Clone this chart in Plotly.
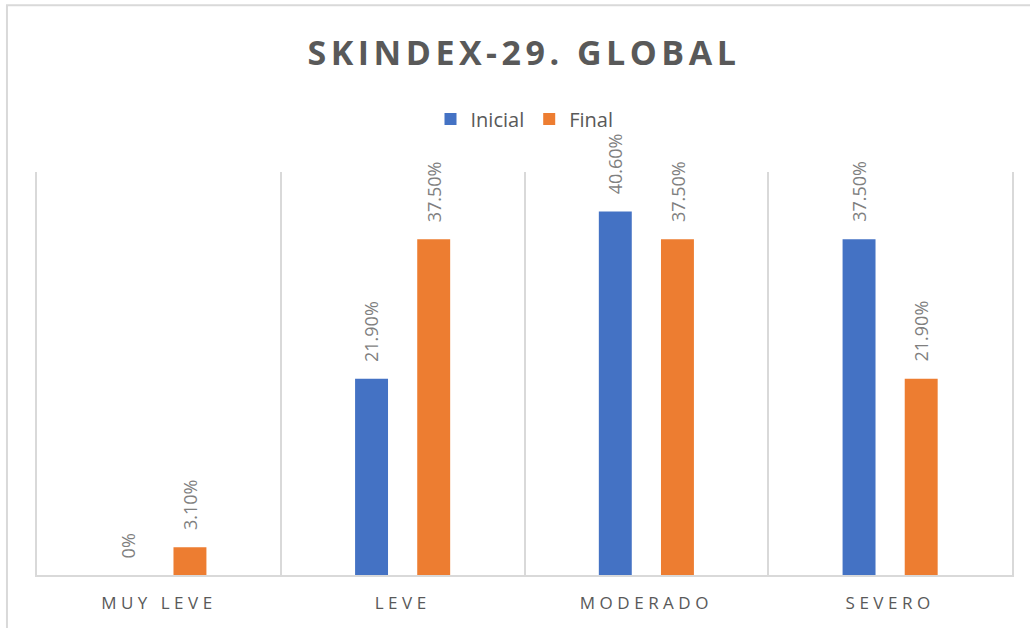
import plotly.graph_objects as go

categories = ["MUY LEVE", "LEVE", "MODERADO", "SEVERO"]
inicial = [0.0, 21.9, 40.6, 37.5]
final = [3.1, 37.5, 37.5, 21.9]
series_names = ["Inicial", "Final"]
colors = ["#4472C4", "#ED7D31"]


def fmt(v):
    return "0%" if v == 0 else f"{v:.2f}%"


fig = go.Figure()
for name, vals, col in zip(series_names, [inicial, final], colors):
    fig.add_trace(go.Bar(x=categories, y=vals, name=name, marker_color=col,
                         marker_line_width=0))

annotations = []
for vals, shift in zip([inicial, final], [-31, 31]):
    for c, v in zip(categories, vals):
        annotations.append(dict(x=c, y=v, xref="x", yref="y", text=fmt(v),
                                showarrow=False, textangle=-90, xshift=shift,
                                yanchor="bottom", yshift=15,
                                font=dict(family="Open Sans", size=18, color="#7F7F7F")))

fig.update_layout(
    width=1030, height=628,
    paper_bgcolor="white", plot_bgcolor="white",
    margin=dict(l=37, r=18, t=172, b=53),
    barmode="group", bargap=0.49, bargroupgap=0.47,
    title=dict(text="<b>SKINDEX-29. GLOBAL</b>", x=0.5087, xanchor="center",
               y=0.915, yanchor="middle",
               font=dict(family="Open Sans", size=34, color="#595959")),
    legend=dict(orientation="h", x=0.5, xanchor="center", y=1.1315, yanchor="middle",
                font=dict(family="Open Sans", size=20, color="#595959"),
                itemwidth=30, traceorder="normal"),
    annotations=annotations,
    shapes=[dict(type="rect", xref="paper", yref="paper", x0=-0.0308, x1=1.2,
                 y0=-0.5, y1=1.414, line=dict(color="#D9D9D9", width=2),
                 fillcolor="rgba(0,0,0,0)", layer="below")],
    font=dict(family="Open Sans"),
)
fig.update_xaxes(showgrid=True, gridcolor="#D9D9D9", gridwidth=1.5, tickson="boundaries",
                 showline=True, linecolor="#D9D9D9", linewidth=1.5, ticks="",
                 tickfont=dict(family="Open Sans", size=17, color="#595959"),
                 ticklabelstandoff=12)
fig.update_yaxes(range=[0, 45], showgrid=False, showticklabels=False, zeroline=False,
                 showline=True, mirror=True, linecolor="#D9D9D9", linewidth=1.5)

post = """
document.body.style.margin='0';
var gd=document.getElementById('{plot_id}');
function sp(){
  gd.querySelectorAll('.gtitle').forEach(function(e){e.style.letterSpacing='4.5px';});
  gd.querySelectorAll('.xtick text').forEach(function(e){e.style.letterSpacing='4.5px';});
}
sp();
gd.on('plotly_afterplot', sp);
"""
fig.write_html("out.html", post_script=post, config={"displayModeBar": False})
